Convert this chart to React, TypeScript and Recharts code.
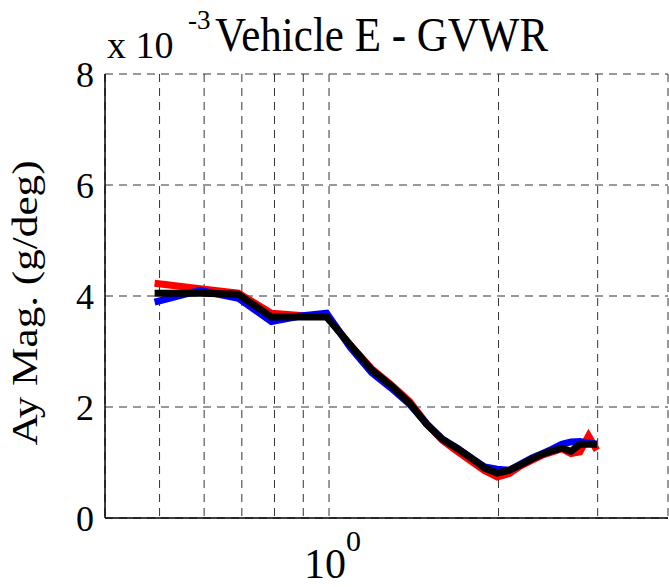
import { LineChart, Line, XAxis, YAxis, CartesianGrid } from 'recharts';

// frequency points (log axis) and the three Ay magnitude traces, in units of 1e-3 g/deg
const freq = [0.49, 0.59, 0.69, 0.79, 0.89, 0.99, 1.09, 1.19, 1.29, 1.39, 1.49, 1.59, 1.69, 1.79, 1.89, 1.99, 2.09, 2.19, 2.29, 2.39, 2.49, 2.59, 2.69, 2.79, 2.89, 2.99];
const redTrace = [4.23, 4.13, 4.05, 3.69, 3.65, 3.64, 3.12, 2.69, 2.4, 2.1, 1.7, 1.4, 1.2, 1.02, 0.85, 0.74, 0.8, 0.94, 1.04, 1.13, 1.19, 1.25, 1.16, 1.19, 1.48, 1.22];
const blueTrace = [3.89, 4.1, 3.96, 3.54, 3.64, 3.69, 3.08, 2.62, 2.34, 2.05, 1.7, 1.42, 1.26, 1.08, 0.92, 0.88, 0.86, 0.97, 1.08, 1.16, 1.24, 1.33, 1.37, 1.38, 1.35, 1.33];
const blackTrace = [4.05, 4.05, 4.03, 3.62, 3.62, 3.62, 3.12, 2.67, 2.38, 2.07, 1.69, 1.42, 1.25, 1.08, 0.9, 0.81, 0.86, 0.96, 1.06, 1.15, 1.21, 1.26, 1.2, 1.33, 1.33, 1.33];

const xGrid = [0.5, 0.6, 0.7, 0.8, 0.9, 1, 2, 3];
const yTicks = [0, 2, 4, 6, 8];

const serif = 'Liberation Serif';

const data = freq.map((f, i) => ({
  f,
  red: redTrace[i],
  blue: blueTrace[i],
  black: blackTrace[i],
}));

// only the decade tick carries a label, like matlab's 10^0
const XTick = (props: any) => {
  const { x, payload } = props;
  if (payload.value !== 1) return <g />;
  return (
    <g style={{ fontFamily: serif }} fill="#000">
      <text x={x - 25} y={578} fontSize={42} style={{ fontFamily: serif }}>10</text>
      <text x={x + 17} y={551} fontSize={30} style={{ fontFamily: serif }}>0</text>
    </g>
  );
};

export default function App() {
  return (
    <div style={{ position: 'absolute', left: 0, top: 0, width: 669, height: 587, background: '#fff' }}>
      <LineChart
        width={669}
        height={587}
        data={data}
        margin={{ top: 74, right: 1, bottom: 0, left: 0 }}
        style={{ fontFamily: serif }}
      >
        <CartesianGrid stroke="#333" strokeDasharray="8 6" />
        <XAxis
          dataKey="f"
          type="number"
          scale="log"
          domain={[0.4, 4]}
          ticks={xGrid}
          allowDataOverflow
          height={69}
          axisLine={{ stroke: '#000', strokeWidth: 1.5 }}
          tickLine={false}
          tickSize={0}
          tick={<XTick />}
          interval={0}
        />
        <XAxis
          xAxisId="top"
          orientation="top"
          type="number"
          scale="log"
          domain={[0.4, 4]}
          height={0}
          tick={false}
          tickLine={false}
          axisLine={{ stroke: '#000', strokeWidth: 1.5 }}
        />
        <YAxis
          domain={[0, 8]}
          ticks={yTicks}
          width={105}
          tickSize={0}
          tickMargin={11}
          tickLine={false}
          axisLine={{ stroke: '#000', strokeWidth: 1.5 }}
          tick={{ fontFamily: serif, fontSize: 36, fill: '#000', style: { fontFamily: serif } }}
          interval={0}
        />
        <YAxis
          yAxisId="r"
          orientation="right"
          domain={[0, 8]}
          width={0}
          tick={false}
          tickLine={false}
          axisLine={{ stroke: '#000', strokeWidth: 1.5 }}
        />
        <Line type="linear" dataKey="red" stroke="#ff0000" strokeWidth={7} dot={false} isAnimationActive={false} />
        <Line type="linear" dataKey="blue" stroke="#0000ff" strokeWidth={7} dot={false} isAnimationActive={false} />
        <Line type="linear" dataKey="black" stroke="#000000" strokeWidth={7} dot={false} isAnimationActive={false} />
      </LineChart>
      <svg
        width={669}
        height={587}
        style={{ position: 'absolute', left: 0, top: 0, pointerEvents: 'none', fontFamily: serif }}
      >
        <g fill="#000">
          <text x={107} y={58} fontSize={38}>x 10</text>
          <text x={188} y={29} fontSize={27}>-3</text>
          <text transform="translate(215, 51) scale(1, 1.15)" fontSize={43}>Vehicle E - GVWR</text>
          <text transform="translate(37, 303) rotate(-90) scale(1.2, 1)" fontSize={36} textAnchor="middle">
            Ay Mag. (g/deg)
          </text>
        </g>
      </svg>
    </div>
  );
}
